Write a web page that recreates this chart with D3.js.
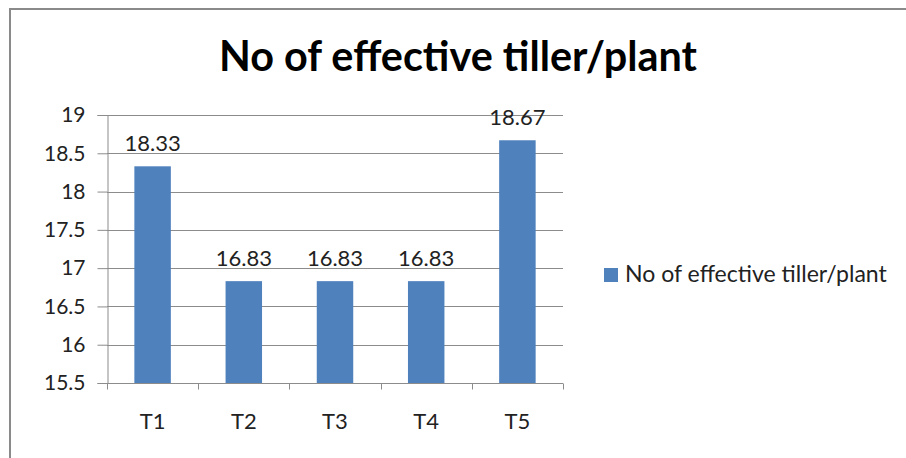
<!DOCTYPE html>
<html>
<head>
<meta charset="utf-8">
<script src="https://cdn.jsdelivr.net/npm/d3@7"></script>
<style>
  html, body { margin: 0; padding: 0; background: #fff; }
  svg { display: block; }
  text { font-family: Lato, "Open Sans", "DejaVu Sans", sans-serif; }
</style>
</head>
<body>
<svg id="chart" width="906" height="458"></svg>
<script>
// Treatments and their mean number of effective tillers per plant
const categories = ["T1", "T2", "T3", "T4", "T5"];
const values = [18.33, 16.83, 16.83, 16.83, 18.67];
const yTicks = [15.5, 16, 16.5, 17, 17.5, 18, 18.5, 19];
const seriesName = "No of effective tiller/plant";
const titleText = "No of effective tiller/plant";

const svg = d3.select("#chart");
const W = 906, H = 458;
const margin = { left: 107, right: 343, top: 115, bottom: 75 };
const plotW = W - margin.left - margin.right;
const plotH = H - margin.top - margin.bottom;

const barColor = "#4F81BD";
const gridColor = "#8c8c8c";
const textColor = "#222";

// Chart frame (only top and left edges visible)
svg.append("path")
  .attr("d", `M10,${H} V9 H${W}`)
  .attr("fill", "none")
  .attr("stroke", "#8a8a8a")
  .attr("stroke-width", 2);

// Fit a text node to a target width by adjusting its font size
function fitWidth(sel, target) {
  const node = sel.node();
  const fs = parseFloat(sel.attr("font-size"));
  const w = node.getComputedTextLength();
  sel.attr("font-size", fs * target / w);
}

// Title
const title = svg.append("text")
  .attr("x", 458)
  .attr("y", 71)
  .attr("text-anchor", "middle")
  .attr("font-size", 34)
  .attr("font-weight", "bold")
  .attr("fill", "#000")
  .text(titleText);
fitWidth(title, 478);

const g = svg.append("g").attr("transform", `translate(${margin.left},${margin.top})`);

const x = d3.scaleBand()
  .domain(categories)
  .range([0, plotW])
  .paddingInner(0.6)
  .paddingOuter(0.3);

const y = d3.scaleLinear()
  .domain([15.5, 19])
  .range([plotH, 0]);

// Horizontal gridlines
g.append("g")
  .selectAll("line")
  .data(yTicks.filter(t => t > 15.5))
  .join("line")
  .attr("x1", 0)
  .attr("x2", plotW)
  .attr("y1", d => Math.round(y(d)) + 0.5)
  .attr("y2", d => Math.round(y(d)) + 0.5)
  .attr("stroke", gridColor)
  .attr("stroke-width", 1);

// Bars
g.append("g")
  .selectAll("rect")
  .data(values)
  .join("rect")
  .attr("x", (d, i) => x(categories[i]))
  .attr("width", x.bandwidth())
  .attr("y", d => y(d))
  .attr("height", d => plotH - y(d))
  .attr("fill", barColor);

// Y axis
const yAxis = g.append("g")
  .attr("transform", "translate(0.5,0)")
  .call(d3.axisLeft(y).tickValues(yTicks).tickSize(10).tickPadding(12).tickFormat(d3.format("")));
yAxis.select(".domain").attr("stroke", gridColor);
yAxis.selectAll(".tick line").attr("stroke", gridColor);
yAxis.selectAll(".tick text")
  .attr("font-size", 21)
  .attr("fill", textColor)
  .style("font-family", "Lato, 'Open Sans', sans-serif");

// X axis with tick marks at category boundaries
const xAxisG = g.append("g").attr("transform", `translate(0,${Math.round(plotH) + 0.5})`);
xAxisG.append("line")
  .attr("x1", 0).attr("x2", plotW)
  .attr("stroke", gridColor);
const boundaries = d3.range(categories.length + 1).map(i => i * x.step());
xAxisG.selectAll(".bnd")
  .data(boundaries)
  .join("line")
  .attr("class", "bnd")
  .attr("x1", d => Math.round(d) + 0.5)
  .attr("x2", d => Math.round(d) + 0.5)
  .attr("y1", 0)
  .attr("y2", 6)
  .attr("stroke", gridColor);
xAxisG.selectAll(".cat")
  .data(categories)
  .join("text")
  .attr("class", "cat")
  .attr("x", d => x(d) + x.bandwidth() / 2)
  .attr("y", 45)
  .attr("text-anchor", "middle")
  .attr("font-size", 22)
  .attr("fill", textColor)
  .text(d => d);

// Value labels above bars
g.append("g")
  .selectAll("text")
  .data(values)
  .join("text")
  .attr("x", (d, i) => x(categories[i]) + x.bandwidth() / 2)
  .attr("y", d => y(d) - 15)
  .attr("text-anchor", "middle")
  .attr("font-size", 22)
  .attr("fill", textColor)
  .text(d => d3.format(".2f")(d));

// Legend
const legend = svg.append("g").attr("transform", "translate(604,268)");
legend.append("rect")
  .attr("width", 14).attr("height", 14)
  .attr("fill", barColor);
const legText = legend.append("text")
  .attr("x", 21)
  .attr("y", 14)
  .attr("font-size", 20)
  .attr("fill", textColor)
  .text(seriesName);
fitWidth(legText, 262);
</script>
</body>
</html>
